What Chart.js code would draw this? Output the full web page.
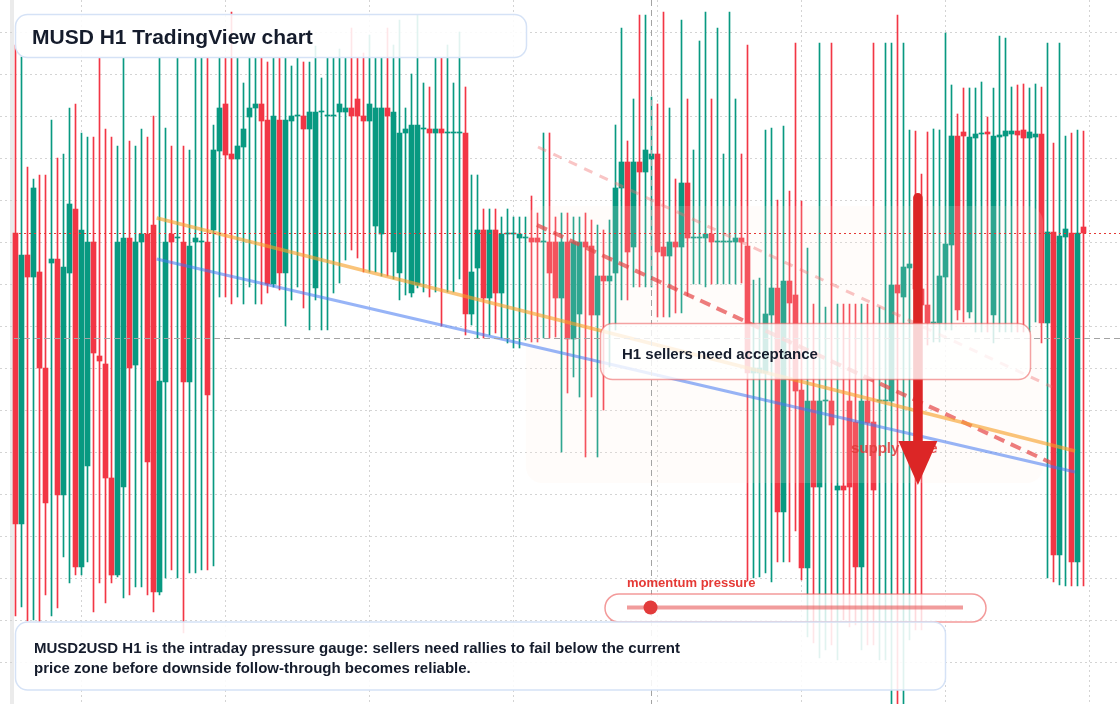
<!DOCTYPE html>
<html>
<head>
<meta charset="utf-8">
<title>MUSD H1 TradingView chart</title>
<script src="https://cdn.jsdelivr.net/npm/chart.js@4.4.1/dist/chart.umd.min.js"></script>
<style>
  html, body { margin: 0; padding: 0; background: #ffffff; }
  canvas { display: block; }
</style>
</head>
<body>
<canvas id="musdChart" width="1120" height="704"></canvas>
<script>
// H1 candles, oldest first
const candleOpen = [
  1.00471, 1.00180, 1.00449, 1.00427, 1.00432, 1.00336, 1.00441, 1.00445, 1.00209, 1.00431,
  1.00495, 1.00137, 1.00238, 1.00462, 1.00348, 1.00340, 1.00226, 1.00129, 1.00217, 1.00466,
  1.00339, 1.00462, 1.00470, 1.00479, 1.00112, 1.00322, 1.00470, 1.00466, 1.00462, 1.00322,
  1.00462, 1.00462, 1.00462, 1.00474, 1.00553, 1.00600, 1.00550, 1.00545, 1.00557, 1.00587,
  1.00596, 1.00600, 1.00584, 1.00420, 1.00584, 1.00431, 1.00583, 1.00588, 1.00588, 1.00575,
  1.00416, 1.00592, 1.00588, 1.00588, 1.00592, 1.00592, 1.00596, 1.00605, 1.00588, 1.00583,
  1.00478, 1.00470, 1.00596, 1.00452, 1.00431, 1.00571, 1.00411, 1.00419, 1.00575, 1.00575,
  1.00571, 1.00575, 1.00571, 1.00571, 1.00571, 1.00571, 1.00390, 1.00436, 1.00474, 1.00406,
  1.00474, 1.00411, 1.00470, 1.00470, 1.00466, 1.00466, 1.00466, 1.00466, 1.00462, 1.00462,
  1.00462, 1.00406, 1.00462, 1.00365, 1.00390, 1.00462, 1.00458, 1.00389, 1.00428, 1.00423,
  1.00431, 1.00516, 1.00542, 1.00457, 1.00542, 1.00532, 1.00545, 1.00550, 1.00457, 1.00448,
  1.00462, 1.00457, 1.00521, 1.00466, 1.00466, 1.00466, 1.00470, 1.00462, 1.00462, 1.00462,
  1.00462, 1.00466, 1.00458, 1.00331, 1.00331, 1.00331, 1.00389, 1.00416, 1.00192, 1.00423,
  1.00409, 1.00314, 1.00136, 1.00303, 1.00217, 1.00303, 1.00303, 1.00214, 1.00218, 1.00303,
  1.00282, 1.00137, 1.00303, 1.00282, 1.00303, 1.00303, 1.00303, 1.00419, 1.00407, 1.00436,
  1.00434, 1.00415, 1.00399, 1.00381, 1.00381, 1.00427, 1.00459, 1.00568, 1.00572, 1.00392,
  1.00566, 1.00570, 1.00572, 1.00389, 1.00567, 1.00568, 1.00570, 1.00573, 1.00574, 1.00566,
  1.00567, 1.00570, 1.00381, 1.00472, 1.00149, 1.00467, 1.00471, 1.00142, 1.00477
];
const candleHigh = [
  1.00659, 1.00647, 1.00537, 1.00525, 1.00529, 1.00529, 1.00584, 1.00546, 1.00550, 1.00596,
  1.00600, 1.00571, 1.00567, 1.00567, 1.00646, 1.00575, 1.00567, 1.00558, 1.00646, 1.00563,
  1.00558, 1.00575, 1.00567, 1.00588, 1.00646, 1.00576, 1.00558, 1.00646, 1.00558, 1.00554,
  1.00646, 1.00646, 1.00646, 1.00579, 1.00646, 1.00646, 1.00692, 1.00646, 1.00621, 1.00646,
  1.00646, 1.00646, 1.00642, 1.00646, 1.00646, 1.00646, 1.00638, 1.00646, 1.00642, 1.00642,
  1.00658, 1.00626, 1.00646, 1.00646, 1.00655, 1.00646, 1.00676, 1.00646, 1.00651, 1.00669,
  1.00646, 1.00646, 1.00676, 1.00659, 1.00684, 1.00596, 1.00630, 1.00689, 1.00621, 1.00617,
  1.00646, 1.00646, 1.00659, 1.00621, 1.00672, 1.00617, 1.00529, 1.00529, 1.00495, 1.00495,
  1.00495, 1.00487, 1.00495, 1.00487, 1.00487, 1.00487, 1.00508, 1.00491, 1.00571, 1.00571,
  1.00487, 1.00491, 1.00491, 1.00487, 1.00487, 1.00491, 1.00484, 1.00479, 1.00474, 1.00484,
  1.00579, 1.00676, 1.00563, 1.00605, 1.00689, 1.00689, 1.00607, 1.00600, 1.00692, 1.00596,
  1.00525, 1.00684, 1.00605, 1.00554, 1.00663, 1.00692, 1.00605, 1.00676, 1.00550, 1.00692,
  1.00605, 1.00550, 1.00659, 1.00424, 1.00426, 1.00574, 1.00576, 1.00504, 1.00578, 1.00513,
  1.00661, 1.00503, 1.00456, 1.00400, 1.00661, 1.00397, 1.00661, 1.00400, 1.00400, 1.00400,
  1.00400, 1.00400, 1.00400, 1.00661, 1.00397, 1.00661, 1.00661, 1.00689, 1.00661, 1.00574,
  1.00573, 1.00530, 1.00572, 1.00575, 1.00574, 1.00671, 1.00619, 1.00590, 1.00616, 1.00616,
  1.00616, 1.00622, 1.00587, 1.00616, 1.00668, 1.00666, 1.00617, 1.00619, 1.00620, 1.00616,
  1.00620, 1.00617, 1.00661, 1.00561, 1.00661, 1.00568, 1.00571, 1.00574, 1.00573
];
const candleLow = [
  1.00088, 1.00097, 1.00083, 1.00084, 1.00082, 1.00109, 1.00088, 1.00096, 1.00147, 1.00121,
  1.00129, 1.00129, 1.00142, 1.00092, 1.00121, 1.00101, 1.00121, 1.00127, 1.00106, 1.00109,
  1.00117, 1.00117, 1.00109, 1.00092, 1.00109, 1.00126, 1.00134, 1.00126, 1.00071, 1.00131,
  1.00131, 1.00134, 1.00134, 1.00138, 1.00407, 1.00407, 1.00400, 1.00407, 1.00400, 1.00417,
  1.00400, 1.00400, 1.00411, 1.00417, 1.00414, 1.00378, 1.00404, 1.00417, 1.00396, 1.00374,
  1.00404, 1.00374, 1.00374, 1.00411, 1.00421, 1.00444, 1.00454, 1.00446, 1.00432, 1.00432,
  1.00432, 1.00428, 1.00428, 1.00425, 1.00404, 1.00409, 1.00407, 1.00416, 1.00412, 1.00407,
  1.00412, 1.00378, 1.00412, 1.00412, 1.00425, 1.00369, 1.00379, 1.00366, 1.00366, 1.00369,
  1.00371, 1.00366, 1.00361, 1.00356, 1.00356, 1.00364, 1.00362, 1.00362, 1.00366, 1.00366,
  1.00367, 1.00252, 1.00311, 1.00327, 1.00307, 1.00247, 1.00307, 1.00247, 1.00294, 1.00337,
  1.00374, 1.00404, 1.00404, 1.00417, 1.00417, 1.00417, 1.00417, 1.00387, 1.00387, 1.00387,
  1.00391, 1.00391, 1.00408, 1.00420, 1.00420, 1.00417, 1.00420, 1.00420, 1.00420, 1.00420,
  1.00420, 1.00421, 1.00124, 1.00126, 1.00127, 1.00131, 1.00122, 1.00142, 1.00142, 1.00142,
  1.00173, 1.00124, 1.00067, 1.00061, 1.00046, 1.00054, 1.00059, 1.00044, 1.00084, 1.00077,
  1.00079, 1.00054, 1.00059, 1.00059, 1.00044, 1.00044, 0.99998, 0.99998, 0.99998, 1.00064,
  1.00074, 1.00074, 1.00359, 1.00362, 1.00362, 1.00374, 1.00374, 1.00384, 1.00382, 1.00386,
  1.00372, 1.00372, 1.00372, 1.00361, 1.00372, 1.00372, 1.00372, 1.00372, 1.00372, 1.00372,
  1.00382, 1.00361, 1.00126, 1.00122, 1.00119, 1.00118, 1.00118, 1.00118, 1.00118
];
const candleClose = [
  1.00180, 1.00449, 1.00427, 1.00516, 1.00336, 1.00201, 1.00445, 1.00209, 1.00437, 1.00500,
  1.00137, 1.00474, 1.00462, 1.00351, 1.00343, 1.00226, 1.00129, 1.00462, 1.00466, 1.00336,
  1.00462, 1.00470, 1.00242, 1.00112, 1.00323, 1.00462, 1.00462, 1.00466, 1.00322, 1.00458,
  1.00466, 1.00462, 1.00309, 1.00554, 1.00596, 1.00549, 1.00545, 1.00558, 1.00575, 1.00596,
  1.00600, 1.00583, 1.00420, 1.00588, 1.00431, 1.00584, 1.00588, 1.00588, 1.00575, 1.00592,
  1.00592, 1.00592, 1.00588, 1.00588, 1.00600, 1.00596, 1.00588, 1.00588, 1.00583, 1.00600,
  1.00596, 1.00596, 1.00588, 1.00592, 1.00571, 1.00575, 1.00579, 1.00579, 1.00575, 1.00571,
  1.00575, 1.00571, 1.00571, 1.00571, 1.00571, 1.00390, 1.00432, 1.00474, 1.00406, 1.00474,
  1.00411, 1.00470, 1.00470, 1.00470, 1.00470, 1.00466, 1.00462, 1.00462, 1.00462, 1.00431,
  1.00406, 1.00462, 1.00365, 1.00462, 1.00462, 1.00457, 1.00389, 1.00428, 1.00423, 1.00428,
  1.00516, 1.00542, 1.00452, 1.00542, 1.00532, 1.00554, 1.00550, 1.00452, 1.00448, 1.00462,
  1.00457, 1.00521, 1.00466, 1.00466, 1.00466, 1.00470, 1.00462, 1.00462, 1.00462, 1.00462,
  1.00466, 1.00462, 1.00331, 1.00336, 1.00336, 1.00390, 1.00416, 1.00192, 1.00423, 1.00401,
  1.00313, 1.00136, 1.00303, 1.00217, 1.00303, 1.00303, 1.00279, 1.00218, 1.00214, 1.00217,
  1.00137, 1.00303, 1.00281, 1.00214, 1.00303, 1.00303, 1.00419, 1.00411, 1.00437, 1.00440,
  1.00415, 1.00399, 1.00381, 1.00381, 1.00428, 1.00460, 1.00568, 1.00394, 1.00568, 1.00567,
  1.00570, 1.00570, 1.00570, 1.00568, 1.00569, 1.00573, 1.00573, 1.00569, 1.00566, 1.00572,
  1.00570, 1.00381, 1.00472, 1.00149, 1.00468, 1.00475, 1.00142, 1.00471, 1.00471
];

// drawn trend lines: [start, end] as {x: candle index, y: price}
const upperTrend = [{ x: 23.53, y: 1.00486 }, { x: 176.58, y: 1.00253 }];
const lowerTrend = [{ x: 23.53, y: 1.00445 }, { x: 176.58, y: 1.00232 }];
const sellerPath = [{ x: 86.9, y: 1.00479 }, { x: 173.4, y: 1.00239 }];
const outerPath = [{ x: 87.08, y: 1.00557 }, { x: 172.75, y: 1.00317 }];

// supply zone and arrow (candle index / price)
const zoneFrom = 85.08, zoneTo = 171.25, zoneTop = 1.00498, zoneBottom = 1.00221;
const arrowAt = 150.4, arrowFrom = 1.00511, arrowHeadBase = 1.00263, arrowTo = 1.00219;

// crosshair and momentum gauge
const crossIndex = 106, crossPrice = 1.00366;
const momentumValue = 0.07;

// grid ticks: day separators and price levels
const dayTicks = [23, 47, 71, 95, 119, 143, 167];
const priceTicks = [
  1.006717, 1.006297, 1.005877, 1.005457, 1.005037, 1.004617, 1.004197, 1.003777,
  1.003357, 1.002937, 1.002517, 1.002097, 1.001677, 1.001257, 1.000837, 1.000417
];

const upColor = '#089981';
const downColor = '#f23645';
const FONT = '"Liberation Sans", Arial, Helvetica, sans-serif';

const idx = candleOpen.map((_, i) => i);
const candleColors = idx.map(i => (candleClose[i] >= candleOpen[i] ? upColor : downColor));

const overlays = {
  id: 'overlays',
  beforeDraw(chart) {
    const { ctx } = chart;
    ctx.save();
    ctx.fillStyle = '#ffffff';
    ctx.fillRect(0, 0, chart.width, chart.height);
    ctx.fillStyle = '#ebebeb';
    ctx.fillRect(10, 0, 4, chart.height);
    ctx.restore();
  },
  afterDatasetDraw(chart, args) {
    if (args.index !== 4) return; // right after the candle bodies
    const { ctx, scales: { x, y } } = chart;
    const x0 = x.getPixelForValue(zoneFrom), x1 = x.getPixelForValue(zoneTo);
    const y0 = y.getPixelForValue(zoneTop), y1 = y.getPixelForValue(zoneBottom);
    ctx.save();
    ctx.fillStyle = 'rgba(252,238,224,0.16)';
    ctx.beginPath();
    ctx.roundRect(x0, y0, x1 - x0, y1 - y0, 16);
    ctx.fill();
    ctx.restore();
  },
  afterDatasetsDraw(chart) {
    const { ctx, scales: { x, y } } = chart;
    const W = chart.width, H = chart.height;
    ctx.save();

    // crosshair
    ctx.strokeStyle = '#a3a3a3';
    ctx.lineWidth = 1;
    ctx.setLineDash([6, 4]);
    const cx = Math.round(x.getPixelForValue(crossIndex) - 0.5) + 0.5;
    const cy = Math.round(y.getPixelForValue(crossPrice)) + 0.5;
    ctx.beginPath(); ctx.moveTo(cx, 0); ctx.lineTo(cx, H); ctx.stroke();
    ctx.beginPath(); ctx.moveTo(14, cy); ctx.lineTo(W, cy); ctx.stroke();

    // last price
    const ly = Math.round(y.getPixelForValue(candleClose[candleClose.length - 1])) + 0.5;
    ctx.strokeStyle = '#e53935';
    ctx.setLineDash([2, 3]);
    ctx.beginPath(); ctx.moveTo(14, ly); ctx.lineTo(W, ly); ctx.stroke();
    ctx.setLineDash([]);

    // supply zone label
    ctx.font = 'bold 15px ' + FONT;
    ctx.fillStyle = 'rgba(224,56,56,0.85)';
    ctx.textBaseline = 'alphabetic';
    ctx.fillText('supply zone', 851, 453);

    // arrow
    const ax = x.getPixelForValue(arrowAt);
    const aTop = y.getPixelForValue(arrowFrom);
    const aBase = y.getPixelForValue(arrowHeadBase);
    const aTip = y.getPixelForValue(arrowTo);
    ctx.strokeStyle = '#dc2626';
    ctx.fillStyle = '#dc2626';
    ctx.lineWidth = 9.5;
    ctx.lineCap = 'round';
    ctx.beginPath(); ctx.moveTo(ax, aTop + 4.75); ctx.lineTo(ax, aBase + 2); ctx.stroke();
    ctx.lineCap = 'butt';
    ctx.beginPath();
    ctx.moveTo(ax - 19.5, aBase); ctx.lineTo(ax + 19.5, aBase); ctx.lineTo(ax, aTip);
    ctx.closePath(); ctx.fill();

    // note boxes
    const box = (bx, by, bw, bh, r, fill, stroke) => {
      ctx.beginPath();
      ctx.roundRect(bx, by, bw, bh, r);
      ctx.fillStyle = fill; ctx.fill();
      ctx.lineWidth = 1.5; ctx.strokeStyle = stroke; ctx.stroke();
    };

    box(600.5, 323.5, 430, 56, 12, 'rgba(255,255,255,0.8)', 'rgba(235,87,87,0.55)');
    ctx.fillStyle = '#161d2d';
    ctx.font = 'bold 15px ' + FONT;
    ctx.fillText('H1 sellers need acceptance', 622, 359);

    box(605, 594, 381, 28, 14, 'rgba(255,255,255,0.82)', 'rgba(235,87,87,0.6)');
    ctx.strokeStyle = 'rgba(232,90,90,0.6)';
    ctx.lineWidth = 4;
    ctx.beginPath(); ctx.moveTo(627, 607.5); ctx.lineTo(963, 607.5); ctx.stroke();
    ctx.fillStyle = '#e23b3b';
    ctx.beginPath(); ctx.arc(627 + (963 - 627) * momentumValue, 607.5, 7, 0, Math.PI * 2); ctx.fill();
    ctx.fillStyle = '#e53935';
    ctx.font = 'bold 13px ' + FONT;
    ctx.fillText('momentum pressure', 627, 587);

    box(15.5, 14.5, 511, 43, 12, 'rgba(255,255,255,0.88)', '#d5e2f6');
    ctx.fillStyle = '#151c2c';
    ctx.font = 'bold 21px ' + FONT;
    ctx.fillText('MUSD H1 TradingView chart', 32, 43.5);

    box(15.5, 622, 930, 68, 12, 'rgba(255,255,255,0.88)', '#d5e2f6');
    ctx.fillStyle = '#151c2c';
    ctx.font = 'bold 15px ' + FONT;
    ctx.fillText('MUSD2USD H1 is the intraday pressure gauge: sellers need rallies to fail below the current', 34, 653);
    ctx.fillText('price zone before downside follow-through becomes reliable.', 34, 673);

    ctx.restore();
  }
};

const trendLine = (label, data, color, width, dash) => ({
  type: 'line', label, data,
  borderColor: color, borderWidth: width, borderDash: dash,
  pointRadius: 0, tension: 0, fill: false, order: 0
});

new Chart(document.getElementById('musdChart'), {
  type: 'bar',
  data: {
    datasets: [
      trendLine('upper trend', upperTrend, 'rgba(247,160,40,0.62)', 3.5, []),
      trendLine('lower trend', lowerTrend, 'rgba(66,118,240,0.55)', 3, []),
      trendLine('seller path', sellerPath, 'rgba(230,70,70,0.7)', 4, [11, 7]),
      trendLine('outer path', outerPath, 'rgba(240,110,110,0.4)', 3, [9, 8]),
      {
        type: 'bar', label: 'body',
        data: idx.map(i => ({ x: i, y: [candleOpen[i], candleClose[i]] })),
        backgroundColor: candleColors, borderWidth: 0,
        barThickness: 5, minBarLength: 1, grouped: false, order: 1
      },
      {
        type: 'bar', label: 'wick',
        data: idx.map(i => ({ x: i, y: [candleLow[i], candleHigh[i]] })),
        backgroundColor: candleColors, borderWidth: 0,
        barThickness: 1, grouped: false, order: 2
      }
    ]
  },
  options: {
    responsive: false,
    animation: false,
    events: [],
    layout: { padding: 0 },
    plugins: { legend: { display: false }, tooltip: { enabled: false } },
    scales: {
      x: {
        type: 'linear', min: -2.5833, max: 184.0833, offset: false,
        ticks: { display: false },
        grid: { color: '#d4d4d4', drawTicks: false, lineWidth: 1 },
        border: { display: false, dash: [2, 3] },
        afterBuildTicks: s => { s.ticks = dayTicks.map(v => ({ value: v })); }
      },
      y: {
        type: 'linear', min: 1.0, max: 1.00704,
        ticks: { display: false },
        grid: { color: '#d4d4d4', drawTicks: false, lineWidth: 1 },
        border: { display: false, dash: [2, 3] },
        afterBuildTicks: s => { s.ticks = priceTicks.map(v => ({ value: v })); }
      }
    }
  },
  plugins: [overlays]
});
</script>
</body>
</html>
